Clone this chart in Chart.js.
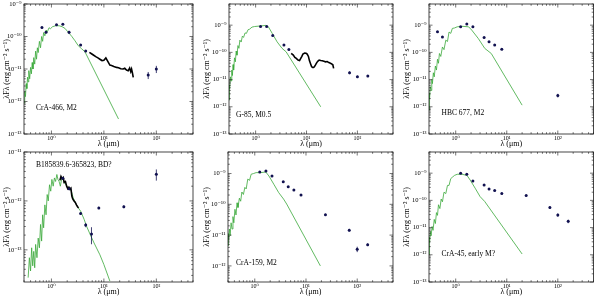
<!DOCTYPE html>
<html><head><meta charset="utf-8">
<script src="https://cdn.jsdelivr.net/npm/chart.js@4/dist/chart.umd.min.js"></script>
<style>
html,body{margin:0;padding:0;background:#fff;}
#wrap{position:relative;width:600px;height:296px;overflow:hidden;}
canvas{position:absolute;}
</style></head><body><div id="wrap">
<canvas id="c1" width="200" height="148" style="left:0;top:0"></canvas>
<canvas id="c2" width="200" height="148" style="left:200px;top:0"></canvas>
<canvas id="c3" width="200" height="148" style="left:400px;top:0"></canvas>
<canvas id="c4" width="200" height="148" style="left:0;top:148px"></canvas>
<canvas id="c5" width="200" height="148" style="left:200px;top:148px"></canvas>
<canvas id="c6" width="200" height="148" style="left:400px;top:148px"></canvas>
</div>
<script>
// ---------- tick labels ----------
const xTicks = [1, 10, 100];
const yTicksA = [1e-13, 1e-12, 1e-11, 1e-10, 1e-9];
const yTicksB = [1e-13, 1e-12, 1e-11];
const yTicksC = [1e-12, 1e-11, 1e-10, 1e-9];

// ---------- panel names ----------
const names = ['CrA-466, M2', 'G-85, M0.5', 'HBC 677, M2', 'B185839.6-365823, BD?', 'CrA-159, M2', 'CrA-45, early M?'];

// ---------- Panel 1: CrA-466 ----------
const p1PhotWl = [0.66, 0.79, 1.25, 1.65, 2.17, 3.6, 4.5, 70, 100];
const p1PhotF  = [1.9e-10, 1.35e-10, 2.3e-10, 2.4e-10, 1.35e-10, 5.5e-11, 3.6e-11, 6.5e-12, 1.0e-11];
const p1PhotE  = [1e-11, 8e-12, 1.2e-11, 1.2e-11, 1.5e-11, 3e-12, 2e-12, 1.6e-12, 2.5e-12];
const p1SpecWl = [5.3,5.8,6.3,7.0,7.7,8.4,9.2,10.0,10.9,11.8,13.0,14.0,15.5,17.4,19.0,21.0,23.3,25.0,27.0,29.1,31.0,32.5,33.7,35.0,36.3];
const p1SpecF  = [3.24e-11,2.95e-11,2.69e-11,2.4e-11,2.19e-11,2.0e-11,1.82e-11,1.86e-11,2.19e-11,1.74e-11,1.32e-11,1.29e-11,1.2e-11,1.12e-11,1.1e-11,1.02e-11,1.0e-11,1.05e-11,9.3e-12,8.9e-12,1.07e-11,8.3e-12,1.0e-11,7.6e-12,5.5e-12];
const p1ModWl  = [0.30,0.31,0.32,0.33,0.34,0.35,0.36,0.37,0.385,0.40,0.415,0.43,0.445,0.46,0.48,0.50,0.52,0.54,0.56,0.59,0.62,0.65,0.68,0.71,0.75,0.79,0.84,0.90,0.96,1.05,1.20,1.40,1.60,1.81,2.09,2.43,2.81,3.25,3.76,4.35,19.0];
const p1ModF   = [8.9e-13,2.0e-12,1.41e-12,3.55e-12,2.5e-12,5.6e-12,4.0e-12,8.9e-12,5.0e-12,1.12e-11,7.1e-12,1.58e-11,1.0e-11,2.24e-11,1.41e-11,3.55e-11,2.0e-11,4.5e-11,3.2e-11,7.1e-11,4.5e-11,1.0e-10,7.1e-11,1.32e-10,1.05e-10,1.58e-10,1.41e-10,1.86e-10,1.74e-10,2.0e-10,2.14e-10,2.14e-10,2.0e-10,1.78e-10,1.35e-10,1.02e-10,7.4e-11,5.2e-11,4.2e-11,3.4e-11,2.9e-13];

// ---------- Panel 2: G-85 ----------
const p2PhotWl = [1.25, 1.65, 2.17, 3.6, 4.5, 70, 100, 160];
const p2PhotF  = [9.0e-10, 9.0e-10, 4.2e-10, 1.85e-10, 1.28e-10, 1.78e-11, 1.26e-11, 1.35e-11];
const p2PhotE  = [4e-11, 4e-11, 2e-11, 8e-12, 6e-12, 2e-12, 1.2e-12, 1.2e-12];
const p2SpecWl = [5.0,5.5,5.9,6.3,6.8,7.3,7.7,8.1,8.5,9.2,9.8,10.3,10.9,11.4,12.0,12.6,13.4,14.2,15.0,15.9,16.8,17.7,19.0,20.4,22.0,23.6,25.5,27.4,29.5,31.7,33.0,34.1];
const p2SpecF  = [9.1e-11,7.9e-11,6.5e-11,6.0e-11,5.2e-11,5.0e-11,6.0e-11,7.1e-11,8.7e-11,9.5e-11,9.3e-11,8.7e-11,7.1e-11,5.0e-11,3.8e-11,2.95e-11,2.75e-11,2.95e-11,3.47e-11,4.2e-11,4.8e-11,5.2e-11,5.0e-11,4.9e-11,4.7e-11,4.5e-11,4.6e-11,4.2e-11,4.0e-11,3.7e-11,3.4e-11,2.57e-11];
const p2ModWl  = [0.30,0.305,0.31,0.32,0.33,0.34,0.35,0.36,0.37,0.385,0.40,0.415,0.43,0.45,0.47,0.49,0.52,0.55,0.58,0.62,0.66,0.71,0.76,0.85,0.95,1.2,1.59,1.78,2.12,2.64,3.3,3.97,19.0];
const p2ModF   = [1.78e-12,6.3e-12,4.5e-12,1.26e-11,8.9e-12,2.24e-11,1.41e-11,3.55e-11,2.24e-11,6.3e-11,4.5e-11,1.12e-10,7.9e-11,1.78e-10,1.41e-10,2.82e-10,2.4e-10,3.98e-10,3.55e-10,5.2e-10,5.0e-10,6.8e-10,7.1e-10,8.5e-10,8.9e-10,9.3e-10,9.8e-10,8.7e-10,5.0e-10,2.45e-10,1.41e-10,1.05e-10,1.0e-12];

// ---------- Panel 3: HBC 677 ----------
const p3PhotWl = [0.44, 0.55, 1.25, 1.65, 2.17, 3.6, 4.5, 5.8, 8.0, 100];
const p3PhotF  = [5.7e-10, 3.7e-10, 8.7e-10, 1.1e-9, 8.7e-10, 3.55e-10, 2.45e-10, 1.85e-10, 1.3e-10, 2.6e-12];
const p3PhotE  = [2e-11, 1.5e-11, 4e-11, 5e-11, 4e-11, 1.5e-11, 1e-11, 8e-12, 6e-12, 4e-13];
const p3SpecWl = [];
const p3SpecF  = [];
const p3ModWl  = [0.30,0.305,0.31,0.318,0.33,0.34,0.35,0.365,0.38,0.40,0.42,0.44,0.46,0.48,0.51,0.55,0.59,0.64,0.69,0.74,0.80,0.86,0.95,1.07,1.33,1.79,2.06,2.77,3.71,4.97,20];
const p3ModF   = [7.6e-13,3.16e-12,2.0e-12,5.5e-12,3.98e-12,1.0e-11,7.1e-12,1.78e-11,1.26e-11,3.16e-11,2.24e-11,5.6e-11,3.98e-11,9.1e-11,7.1e-11,1.58e-10,1.26e-10,2.82e-10,2.51e-10,5.6e-10,5.0e-10,7.6e-10,7.9e-10,8.7e-10,9.1e-10,8.7e-10,6.6e-10,3.24e-10,1.4e-10,9.1e-11,1.15e-12];

// ---------- Panel 4: B185839.6-365823 ----------
const p4PhotWl = [1.65, 2.17, 3.6, 4.5, 5.8, 8.0, 24, 100];
const p4PhotF  = [2.9e-12, 1.78e-12, 5.5e-13, 3.2e-13, 2.1e-13, 7.2e-13, 7.6e-13, 3.5e-12];
const p4PhotE  = [1.2e-13, 8e-14, 3e-14, 3e-14, 8e-14, 4e-14, 5e-14, 9e-13];
const p4SpecWl = [1.45,1.52,1.60,1.68,1.75,1.85,1.95,2.05,2.15,2.25,2.35,2.45,2.55,2.70,2.85,3.00,3.15,3.30];
const p4SpecF  = [2.63e-12,3.16e-12,2.82e-12,3.0e-12,2.4e-12,2.5e-12,2.0e-12,1.78e-12,1.9e-12,1.74e-12,1.82e-12,1.26e-12,1.1e-12,1.0e-12,9.3e-13,8.3e-13,7.6e-13,7.2e-13];
const p4ModWl  = [0.36,0.38,0.40,0.42,0.44,0.46,0.48,0.50,0.53,0.56,0.59,0.62,0.65,0.68,0.71,0.75,0.79,0.83,0.87,0.92,0.97,1.02,1.08,1.14,1.20,1.27,1.33,1.40,1.48,1.56,1.65,1.75,1.90,2.05,2.20,2.40,2.60,2.80,3.00,3.25,3.60,4.20,4.70,5.50,6.50,8.40,10.0,13.0];
const p4ModF   = [2.7e-14,6.9e-14,3.7e-14,1.1e-13,4.7e-14,9.3e-14,4.3e-14,1.29e-13,6.9e-14,1.74e-13,1.1e-13,3.3e-13,1.51e-13,5.2e-13,2.82e-13,8.3e-13,5.2e-13,1.35e-12,1.0e-12,2.14e-12,1.58e-12,2.75e-12,2.0e-12,2.95e-12,2.5e-12,3.47e-12,2.75e-12,2.5e-12,2.0e-12,2.75e-12,2.95e-12,2.34e-12,2.14e-12,1.82e-12,1.9e-12,1.58e-12,1.15e-12,9.8e-13,8.3e-13,7.2e-13,6.2e-13,4.2e-13,3.0e-13,2.04e-13,1.38e-13,7.9e-14,5.0e-14,2.3e-14];

// ---------- Panel 5: CrA-159 ----------
const p5PhotWl = [1.25, 1.65, 2.17, 3.6, 4.5, 5.8, 8.0, 24, 70, 100, 160];
const p5PhotF  = [1.12e-9, 1.2e-9, 8.3e-10, 5.4e-10, 3.7e-10, 2.9e-10, 2.0e-10, 4.6e-11, 1.45e-11, 3.5e-12, 4.9e-12];
const p5PhotE  = [5e-11, 5e-11, 4e-11, 2.5e-11, 1.8e-11, 1.4e-11, 1e-11, 3e-12, 1.5e-12, 7e-13, 5e-13];
const p5SpecWl = [];
const p5SpecF  = [];
const p5ModWl  = [0.30,0.305,0.31,0.32,0.33,0.345,0.36,0.375,0.39,0.41,0.43,0.45,0.47,0.50,0.53,0.56,0.60,0.64,0.68,0.73,0.79,0.85,0.95,1.06,1.31,1.64,1.89,2.35,2.93,3.65,4.20,19.1];
const p5ModF   = [4.6e-12,1.12e-11,7.1e-12,1.58e-11,9.5e-12,2.51e-11,1.58e-11,3.98e-11,2.51e-11,6.9e-11,4.5e-11,1.12e-10,7.9e-11,1.58e-10,1.26e-10,2.51e-10,2.09e-10,3.55e-10,3.16e-10,6.6e-10,6.0e-10,9.5e-10,1.0e-9,1.07e-9,1.07e-9,1.12e-9,8.3e-10,4.5e-10,2.4e-10,1.48e-10,1.02e-10,1.0e-12];

// ---------- Panel 6: CrA-45 ----------
const p6PhotWl = [1.25, 1.65, 2.17, 3.6, 4.5, 5.8, 8.0, 24, 70, 100, 160];
const p6PhotF  = [1.0e-9, 9.2e-10, 5.2e-10, 3.7e-10, 2.6e-10, 2.3e-10, 1.8e-10, 1.5e-10, 5.5e-11, 2.9e-11, 1.7e-11];
const p6PhotE  = [4e-11, 4e-11, 3e-11, 1.8e-11, 1.3e-11, 1.1e-11, 9e-12, 8e-12, 6e-12, 4e-12, 2.5e-12];
const p6SpecWl = [];
const p6SpecF  = [];
const p6ModWl  = [0.30,0.305,0.31,0.32,0.33,0.345,0.36,0.38,0.40,0.42,0.44,0.46,0.49,0.52,0.55,0.59,0.64,0.69,0.74,0.80,0.86,0.95,1.07,1.33,1.66,1.92,2.40,3.0,3.7,20];
const p6ModF   = [1.0e-12,4.5e-12,2.82e-12,7.2e-12,5.0e-12,1.1e-11,7.9e-12,2.0e-11,1.41e-11,3.55e-11,2.82e-11,6.9e-11,5.0e-11,1.12e-10,8.9e-11,2.0e-10,1.78e-10,3.55e-10,3.55e-10,6.3e-10,7.1e-10,8.3e-10,9.1e-10,9.1e-10,8.3e-10,5.6e-10,2.82e-10,1.38e-10,9.1e-11,1.07e-12];

// ---------- styling ----------
const FONT = '"Liberation Serif", "DejaVu Serif", serif';
const GREEN = '#3aa83a';
const NAVY = '#121250';
const SUP = '⁻⁰¹²³⁴⁵⁶⁷⁸⁹';
const sup = s => s.replace(/[-0-9]/g, c => SUP['-0123456789'.indexOf(c)]);
const fmt = v => '10' + sup(String(Math.round(Math.log10(v))));
const zip = (a, b) => a.slice(0, Math.min(a.length, b.length)).map((v, i) => ({x: v, y: b[i]}));

const deco = {
  id: 'sedDeco',
  afterDatasetsDraw(chart, args, o) {
    const {ctx, chartArea: a, scales: {x, y}} = chart;
    const ds = chart.data.datasets[0];
    ctx.save();
    ctx.beginPath(); ctx.rect(a.left, a.top, a.right - a.left, a.bottom - a.top); ctx.clip();
    ctx.strokeStyle = NAVY; ctx.lineWidth = 0.8;
    ds.data.forEach((p, i) => {
      const e = ds.err[i]; if (!e) return;
      const px = x.getPixelForValue(p.x);
      const y1 = y.getPixelForValue(p.y + e);
      const y2 = y.getPixelForValue(Math.max(p.y - e, p.y * 0.05));
      ctx.beginPath(); ctx.moveTo(px, y1); ctx.lineTo(px, y2); ctx.stroke();
    });
    ctx.restore();
    // frame
    ctx.save();
    ctx.strokeStyle = '#1a1a1a'; ctx.lineWidth = 0.8;
    ctx.strokeRect(a.left, a.top, a.right - a.left, a.bottom - a.top);
    ctx.lineWidth = 0.6;
    const tick = (isX, v, len) => {
      ctx.beginPath();
      if (isX) {
        const p = x.getPixelForValue(v);
        ctx.moveTo(p, a.bottom); ctx.lineTo(p, a.bottom - len);
        ctx.moveTo(p, a.top); ctx.lineTo(p, a.top + len);
      } else {
        const p = y.getPixelForValue(v);
        ctx.moveTo(a.left, p); ctx.lineTo(a.left + len, p);
        ctx.moveTo(a.right, p); ctx.lineTo(a.right - len, p);
      }
      ctx.stroke();
    };
    for (const [isX, sc] of [[true, x], [false, y]]) {
      const d0 = Math.floor(Math.log10(sc.min)), d1 = Math.ceil(Math.log10(sc.max));
      for (let d = d0; d <= d1; d++) for (let m = 1; m <= 9; m++) {
        const v = m * Math.pow(10, d);
        if (v < sc.min * 0.999 || v > sc.max * 1.001) continue;
        tick(isX, v, m === 1 ? 3.5 : 1.8);
      }
    }
    ctx.fillStyle = '#000';
    ctx.font = '7.5px ' + FONT;
    ctx.textBaseline = 'middle';
    ctx.fillText(o.label, o.lx, o.ly);
    ctx.restore();
  }
};

function makeChart(id, c) {
  return new Chart(document.getElementById(id), {
    type: 'scatter',
    data: {datasets: [
      {data: zip(c.photWl, c.photF), err: c.photE, showLine: false, pointRadius: 1.5, pointBorderWidth: 0,
       pointBackgroundColor: NAVY, pointBorderColor: NAVY},
      {data: zip(c.specWl, c.specF), showLine: true, borderColor: '#000', borderWidth: 1.6, pointRadius: 0},
      {data: zip(c.modWl, c.modF), showLine: true, borderColor: GREEN, borderWidth: 0.8, pointRadius: 0}
    ]},
    options: {
      responsive: false, animation: false, events: [],
      layout: {padding: {top: 4, right: c.right, left: 0, bottom: 0}},
      plugins: {legend: {display: false}, tooltip: {enabled: false},
                sedDeco: {label: c.label, lx: c.lx, ly: c.ly}},
      scales: {
        x: {type: 'logarithmic', min: 0.3, max: 500,
            afterBuildTicks: s => { s.ticks = xTicks.map(v => ({value: v})); },
            afterFit: s => { s.height = 14; s.paddingLeft = 0; s.paddingRight = 0; },
            grid: {display: false, drawTicks: false}, border: {display: false},
            ticks: {font: {family: FONT, size: 6, lineHeight: 1}, color: '#000', padding: 1.5, maxRotation: 0, autoSkip: false, callback: fmt},
            title: {display: true, text: 'λ (μm)', color: '#000', padding: 0, font: {family: FONT, size: 8, lineHeight: 1}}},
        y: {type: 'logarithmic', min: c.ymin, max: c.ymax,
            afterBuildTicks: s => { s.ticks = c.yTicks.map(v => ({value: v})); },
            afterFit: s => { s.width = c.left; s.paddingTop = 0; s.paddingBottom = 0; },
            grid: {display: false, drawTicks: false}, border: {display: false},
            ticks: {font: {family: FONT, size: 6.5}, color: '#000', padding: 2.5, autoSkip: false, callback: fmt},
            title: {display: true, text: 'λFλ (erg cm⁻² s⁻¹)', color: '#000', padding: {top: 3, bottom: 0}, font: {family: FONT, size: 8, lineHeight: 1}}}
      }
    },
    plugins: [deco]
  });
}

makeChart('c1', {photWl: p1PhotWl, photF: p1PhotF, photE: p1PhotE, specWl: p1SpecWl, specF: p1SpecF, modWl: p1ModWl, modF: p1ModF,
  ymin: 1e-13, ymax: 1e-9, yTicks: yTicksA, left: 24, right: 7, label: names[0], lx: 36, ly: 108});
makeChart('c2', {photWl: p2PhotWl, photF: p2PhotF, photE: p2PhotE, specWl: p2SpecWl, specF: p2SpecF, modWl: p2ModWl, modF: p2ModF,
  ymin: 1e-13, ymax: 6e-9, yTicks: yTicksA, left: 29, right: 7, label: names[1], lx: 36, ly: 115});
makeChart('c3', {photWl: p3PhotWl, photF: p3PhotF, photE: p3PhotE, specWl: p3SpecWl, specF: p3SpecF, modWl: p3ModWl, modF: p3ModF,
  ymin: 1e-13, ymax: 6e-9, yTicks: yTicksA, left: 29, right: 6.5, label: names[2], lx: 41.5, ly: 113});
makeChart('c4', {photWl: p4PhotWl, photF: p4PhotF, photE: p4PhotE, specWl: p4SpecWl, specF: p4SpecF, modWl: p4ModWl, modF: p4ModF,
  ymin: 2.2e-14, ymax: 1e-11, yTicks: yTicksB, left: 24, right: 7, label: names[3], lx: 36, ly: 17});
makeChart('c5', {photWl: p5PhotWl, photF: p5PhotF, photE: p5PhotE, specWl: p5SpecWl, specF: p5SpecF, modWl: p5ModWl, modF: p5ModF,
  ymin: 3e-13, ymax: 5e-9, yTicks: yTicksC, left: 28, right: 7, label: names[4], lx: 36, ly: 115});
makeChart('c6', {photWl: p6PhotWl, photF: p6PhotF, photE: p6PhotE, specWl: p6SpecWl, specF: p6SpecF, modWl: p6ModWl, modF: p6ModF,
  ymin: 1e-13, ymax: 6e-9, yTicks: yTicksA, left: 29, right: 6.5, label: names[5], lx: 41.5, ly: 106});
</script>
</body></html>
